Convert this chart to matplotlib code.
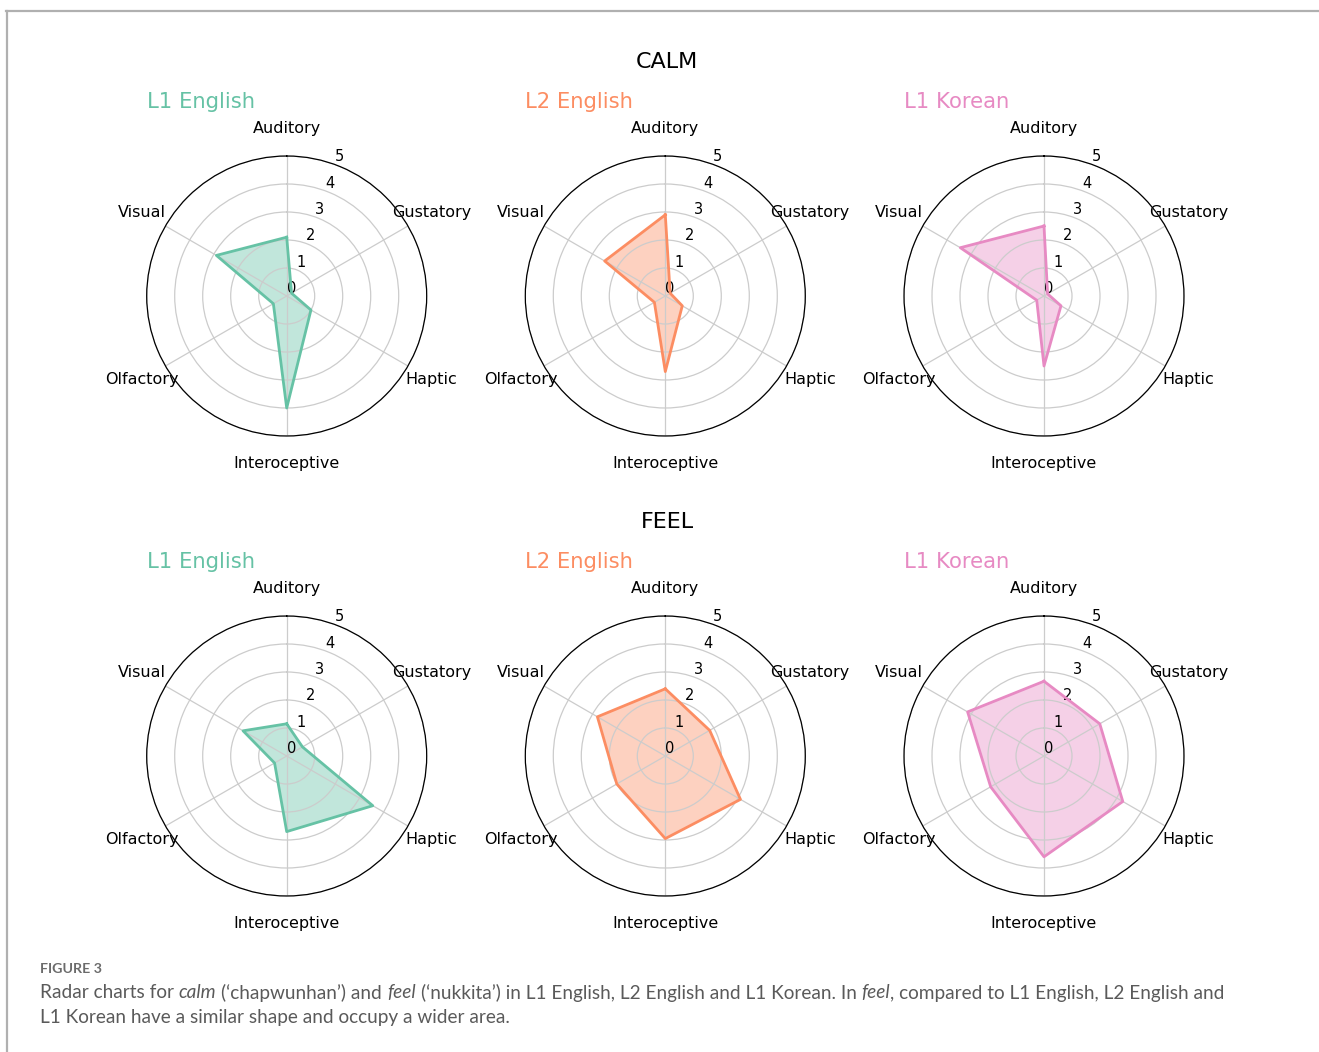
import numpy as np
import matplotlib
matplotlib.use("Agg")
import matplotlib.pyplot as plt
from matplotlib.lines import Line2D

plt.rcParams["font.family"] = ["DejaVu Sans"]

# Sensory dimensions, clockwise from the top
dimensions = ["Auditory", "Gustatory", "Haptic", "Interoceptive", "Olfactory", "Visual"]
groups = ["L1 English", "L2 English", "L1 Korean"]
group_colors = ["#66c2a5", "#fc8d62", "#e78ac3"]
words = ["CALM", "FEEL"]

# Mean ratings (0-5) per group and dimension
calm_l1_english = [2.1, 0.2, 1.0, 4.0, 0.55, 2.9]
calm_l2_english = [2.9, 0.2, 0.7, 2.7, 0.45, 2.5]
calm_l1_korean = [2.5, 0.15, 0.7, 2.5, 0.3, 3.45]
feel_l1_english = [1.15, 0.65, 3.55, 2.7, 0.5, 1.8]
feel_l2_english = [2.4, 1.83, 3.1, 2.95, 2.0, 2.8]
feel_l1_korean = [2.67, 2.3, 3.25, 3.6, 2.2, 3.15]

ratings = [
    [calm_l1_english, calm_l2_english, calm_l1_korean],
    [feel_l1_english, feel_l2_english, feel_l1_korean],
]
r_ticks = [0, 1, 2, 3, 4, 5]

W, H = 1319, 1052
fig = plt.figure(figsize=(W / 100, H / 100), dpi=100)
fig.patch.set_facecolor("white")

# page frame lines (top and left)
fig.add_artist(Line2D([6 / W, 1], [1 - 11 / H, 1 - 11 / H], color="#b0b0b0", lw=1.6,
                      transform=fig.transFigure))
fig.add_artist(Line2D([6.5 / W, 6.5 / W], [1 - 11 / H, 0], color="#b0b0b0", lw=1.6,
                      transform=fig.transFigure))

angles = np.linspace(0, 2 * np.pi, len(dimensions), endpoint=False)
centers_x = [286.7, 665.3, 1044.0]
centers_y = [296.0, 756.0]
title_y = [62, 522]
sub_y = [102, 562]
R = 140.0

for row, word in enumerate(words):
    fig.text(667 / W, 1 - title_y[row] / H, word, ha="center", va="center",
             fontsize=16, color="black")
    for col, group in enumerate(groups):
        cx, cy = centers_x[col], centers_y[row]
        ax = fig.add_axes([(cx - R) / W, 1 - (cy + R) / H, 2 * R / W, 2 * R / H],
                          projection="polar")
        ax.set_theta_offset(np.pi / 2)
        ax.set_theta_direction(-1)
        vals = list(ratings[row][col])
        th = list(angles) + [angles[0]]
        vv = vals + [vals[0]]
        color = group_colors[col]
        ax.fill(th, vv, color=color, alpha=0.4, lw=0)
        ax.plot(th, vv, color=color, lw=2)
        ax.set_ylim(0, 5)
        ax.set_xticks(angles)
        ax.set_xticklabels(dimensions, fontsize=11.5)
        ax.tick_params(axis="x", pad=9)
        ax.set_yticks(r_ticks)
        ax.set_yticklabels([str(t) for t in r_ticks], fontsize=10.5)
        ax.set_rlabel_position(20)
        ax.grid(True, color="#cccccc", lw=0.9)
        ax.spines["polar"].set_color("black")
        ax.spines["polar"].set_linewidth(0.9)
        fig.text((cx - R) / W, 1 - sub_y[row] / H, group, ha="left", va="center",
                 fontsize=15.2, color=color)

# caption
cap_font = "Lato"
cap_color = "#5a5a5a"
fig.text(40 / W, 1 - 969 / H, "FIGURE 3", ha="left", va="center", fontsize=10.3,
         fontweight="bold", color="#6b6b6b", family=cap_font)

renderer = fig.canvas.get_renderer()


def text_width(s, style, size):
    t = fig.text(0, 0, s, fontsize=size, style=style, family=cap_font)
    w = t.get_window_extent(renderer).width
    t.remove()
    return w


def draw_runs(x_px, y_px, runs, size):
    space = text_width("x x", "normal", size) - text_width("xx", "normal", size)
    x = x_px
    for s, italic, gap_before in runs:
        if gap_before:
            x += space
        style = "italic" if italic else "normal"
        t = fig.text(x / W, 1 - y_px / H, s, ha="left", va="center", fontsize=size,
                     style=style, family=cap_font, color=cap_color)
        x += t.get_window_extent(renderer).width


cap_size = 13.65
line1 = [
    ("Radar charts for", False, False),
    ("calm", True, True),
    ("(‘chapwunhan’) and", False, True),
    ("feel", True, True),
    ("(‘nukkita’) in L1 English, L2 English and L1 Korean. In", False, True),
    ("feel", True, True),
    (", compared to L1 English, L2 English and", False, False),
]
line2 = [("L1 Korean have a similar shape and occupy a wider area.", False, False)]
draw_runs(40, 993, line1, cap_size)
draw_runs(40, 1017, line2, cap_size)

fig.savefig("out.png", dpi=100, facecolor="white")
